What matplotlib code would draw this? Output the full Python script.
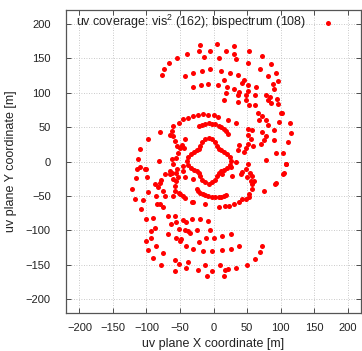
import matplotlib
matplotlib.use("Agg")
import matplotlib.pyplot as plt

# uv coordinates [m]
u_outer_top = [-20, -21, -14, -4.5, -39, -54, -67, -74, -77, -43, -31, -17, -4.5, -30, -19, -7.5,
               5.5, 18, 30, 31, 53, 8.5, 33, 52, 72, 85.5, 69, 93, 11.5, 24, 36, 46, 42, 16, 6.4,
               19.4, 31, 38, 51, 51, 64, 82, 95.5, 88, 90, 78, 62, 36, 48, 18.4, 95, 85, 102]
v_outer_top = [169, 161, 152, 161, 156, 151, 143, 134, 125, 124, 128.5, 132, 134, 108, 111, 112,
               170, 161, 167, 156, 161, 151, 149, 143, 153, 142, 135, 129, 132, 129, 125, 119, 113.5, 118, 110.6,
               108, 106, 101, 110.6, 103, 108, 124, 117, 112.6, 105, 97, 96, 96, 96, 99.6, 91, 93, 70.5]

u_upper_right = [16, 36, 48, 53, 62, 80.6, 85.5, 95.5, 65.7, 72, 68, 78, 100.5, 98, 114, 80.6, 90.5, 115,
                 6, 21, 33, 51, 57, 52, 55.7, 51, 48, 38, 46, 36, 59, 73, 78, 75.6, 70.6, 90.5, 93, 104,
                 110.4, 79, 108, 105.5, 92]
v_upper_right = [90, 86.5, 89, 82.6, 81.6, 89, 85.5, 84, 71, 66, 60, 60, 71, 57.5, 56.5, 52.6, 45.4, 42,
                 64.8, 60, 56.5, 46.8, 45.4, 38, 33, 26, 19, 23.6, 14, 16.4, 22, 43, 37, 31, 26, 31, 13, 13,
                 28.5, 2, -3, -17, -32]

u_ring_upper_left = [-7.5, -15, -22.4, -30, -37.3, -44.8, -52.2, -59.7, -62.2, -64.7, -59.7, -57.2, -54.7,
                     -49.3, -52.7, -56.3, -44.3, -80, -98, -110, -113, -81, -47.3, -42.3, -62.2, -59.7, -44.8, 0]
v_ring_upper_left = [68, 69.5, 68, 65.7, 63.3, 61, 56, 51, 44, 39, 36.7, 29.4, 22,
                     19.8, 13, 5.4, 19.8, 43, 32.4, 18.8, 4.3, 0.5, 24.6, 32, 3, -4.3, -6.8, 67]

u_arc_top = [-22, -17, -12.5, -7, -2.5, 2.5, 7.5, 11.5, 15, 18.4, 21]
v_arc_top = [51, 53, 54.6, 55.2, 55, 54, 52, 50, 47.4, 44, 40]

u_arc_bottom = [-25, -22.5, -20, -16, -12.5, -7.5, -2.5, 2.5, 7.5, 11.5, 15, 18]
v_arc_bottom = [-40.6, -43.5, -45.4, -47.5, -48.8, -50.3, -51, -51.5, -51.7, -51.2, -50.3, -49]

u_clover = [26, 24.3, 20.2, 15.1, 10.8, 8, 5.75, 2.9, -1.5, -7, -12.5, -16.9, -19.75, -22, -24.8, -29.1,
            -34.2, -38.3, -40, -38.3, -34.2, -29.1, -24.8, -22, -19.75, -16.9, -12.5, -7, -1.5, 2.9,
            5.75, 8, 10.8, 15.1, 20.2, 24.3]
v_clover = [1, 6.5, 10.9, 13.8, 16, 18.8, 23.1, 28.2, 32.3, 34, 32.3, 28.2, 23.1, 18.8, 16, 13.8,
            10.9, 6.5, 1, -4.5, -8.9, -11.8, -14, -16.8, -21.1, -26.2, -30.3, -32, -30.3, -26.2,
            -21.1, -16.8, -14, -11.8, -8.9, -4.5]

u_ring_lower_right = [8.5, 17.4, 23.4, 31, 38, 42.2, 48.8, 53.2, 53, 57, 58, 59.7, 55.7, 57.2, 50.7, 54.7,
                      74.6, 93, 104, 108, 52, 28, 40.7, 43, 48, 13.4, 25.8, 33]
v_ring_lower_right = [-66.7, -64.3, -64.3, -61.8, -59.4, -55, -54.6, -52, -47.4, -40, -32.9, -28.6, -28, -21.3,
                      -23.2, -16.4, -42.5, -31.4, -18.4, -3.9, -3.9, -21.7, -18.4, -15, -11, -18.4, -8.7, -1.4]

u_lower_left = [-100, -90, -67.6, -57.7, -55.2, -62.7, -45.2, -40.3, -20.4, -8, -80, -75, -85, -107.5,
                -117.5, -121, -97.5, -86, -82.6, -80, -77.6, -75, -72.6, -115, -99, -110, -100,
                -65.2, -55.2, -45.2, -42.8, -52.7, -55.2, -57.7, -57.7, -60.1, -50.3, -45.2, -30.3,
                -30.3, -13, -104.5, -87, -102, -72, -64.6, -59.7, -54.7, -62, -52, -42, -32,
                -114.4, -32, -52]
v_lower_left = [-83.6, -82.6, -79.7, -78.7, -87.4, -90.8, -84.5, -88.4, -83.6, -86, -61.8, -66.7, -61.8, -69,
                -54.6, -40, -44, -49.8, -37.7, -31.4, -26.6, -42.5, -49.8, -24.6, -23, -8.7, -11,
                -18.4, -16, -13.5, -23.2, -23.2, -28, -36.2, -42.5, -49.8, -47.4, -49.8, -25.6,
                -59.4, -61.8, -56, -33, -11.6, -18.8, -14, -26, -11.6, -16.4, -45.4, -52.6, -59,
                -11.6, -84, -98.5]

u_bottom = [-92.5, -87.6, -100, -92.5, -97.5, -86, -90, -75, -77.6, -67.6, -56.3, -50.3, -47.8, -42.8,
            -37.8, -35.3, -41.3, -30.3, -21.5, -11.5, -5.5, -24.3, -15.4, -1.5, -57.7, -37.8, -40.3,
            -57.7, -22.8, -13, -10.4, -1.5, 1, 13.4, 25.8, 12.4, 25.8, 38.3, 72, 69.6, 62.2, 49.7,
            34.3, 9.4, 17.4, 16, -52.2, 21]
v_bottom = [-101.4, -96.6, -116, -111, -128, -123, -140, -133, -151, -104.8, -111, -116, -112.6, -99,
            -101.4, -104, -123, -127, -117, -111, -99, -99, -130.4, -130.4, -142.5, -146.4, -154.6,
            -159.4, -157, -151, -166.7, -159.4, -111, -108.7, -104.8, -129, -127, -122.2, -122.2, -132, -141, -149.7,
            -154.6, -151, -158, -166.7, -149, -155.5]

u = (u_outer_top + u_upper_right + u_ring_upper_left + u_arc_top + u_arc_bottom + u_clover
     + u_ring_lower_right + u_lower_left + u_bottom)
v = (v_outer_top + v_upper_right + v_ring_upper_left + v_arc_top + v_arc_bottom + v_clover
     + v_ring_lower_right + v_lower_left + v_bottom)

ticks = [-200, -150, -100, -50, 0, 50, 100, 150, 200]
legend_label = r"uv coverage: vis$^2$ (162); bispectrum (108)"

plt.rcParams['font.family'] = ['Liberation Sans', 'DejaVu Sans']
plt.rcParams['mathtext.fontset'] = 'custom'
plt.rcParams['mathtext.rm'] = 'Liberation Sans'
plt.rcParams['mathtext.it'] = 'Liberation Sans'

fig = plt.figure(figsize=(3.62, 3.51), dpi=100)
ax = fig.add_axes([66 / 362, 38 / 351, 295 / 362, 303 / 351])

ax.scatter(u, v, s=13, color='#ff0000', linewidths=0, label=legend_label, zorder=3)

ax.set_xlim(-220, 220)
ax.set_ylim(-220, 220)
ax.set_xticks(ticks)
ax.set_yticks(ticks)
ax.grid(True, color='#b8b8b8', linestyle=(0, (1, 2)), linewidth=0.6)
ax.tick_params(direction='in', length=3.5, width=0.6, color='#333333', top=True, right=True,
               labelsize=8, labelcolor='#222222')
ax.tick_params(axis='y', pad=11)
ax.tick_params(axis='x', pad=7)
for s in ax.spines.values():
    s.set_color('#555555')
    s.set_linewidth(0.9)

ax.set_xlabel('uv plane X coordinate [m]', fontsize=9, color='#222222', labelpad=4)
ax.set_ylabel('uv plane Y coordinate [m]', fontsize=9, color='#222222', labelpad=6)

leg = ax.legend(loc='center left', bbox_to_anchor=(0.035, 0.96), borderpad=0, borderaxespad=0,
                handletextpad=1.2, handlelength=1, markerfirst=False, frameon=False,
                fontsize=9, scatterpoints=1)
for t in leg.get_texts():
    t.set_color('#222222')

fig.savefig('out.png', dpi=100)
